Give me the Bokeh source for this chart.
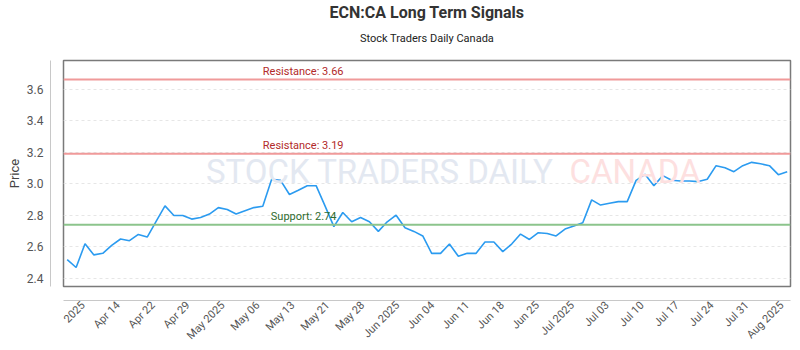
import math
from bokeh.plotting import figure
from bokeh.models import FixedTicker, Span, Label, Title, Range1d, LinearAxis
from bokeh.embed import file_html
from bokeh.resources import INLINE

# ---- data ----
prices = [
    2.518, 2.468, 2.619, 2.548, 2.558, 2.608, 2.649, 2.638, 2.678, 2.661,
    2.761, 2.859, 2.798, 2.798, 2.775, 2.785, 2.807, 2.848, 2.836, 2.807,
    2.828, 2.848, 2.857, 3.028, 3.021, 2.931, 2.958, 2.987, 2.987, 2.859,
    2.727, 2.817, 2.758, 2.785, 2.758, 2.697, 2.758, 2.800, 2.720, 2.697,
    2.668, 2.558, 2.558, 2.617, 2.539, 2.558, 2.558, 2.630, 2.630, 2.569,
    2.617, 2.680, 2.646, 2.689, 2.684, 2.668, 2.712, 2.731, 2.752, 2.897,
    2.864, 2.876, 2.886, 2.886, 3.021, 3.059, 2.987, 3.051, 3.021, 3.017,
    3.017, 3.013, 3.028, 3.114, 3.101, 3.076, 3.114, 3.135, 3.126, 3.114,
    3.057, 3.076,
]
tick_labels = [
    "2025", "Apr 14", "Apr 22", "Apr 29", "May 2025", "May 06", "May 13",
    "May 21", "May 28", "Jun 2025", "Jun 04", "Jun 11", "Jun 18", "Jun 25",
    "Jul 2025", "Jul 03", "Jul 10", "Jul 17", "Jul 24", "Jul 31", "Aug 2025",
]
resistance_levels = [3.66, 3.19]
support_levels = [2.74]
y_ticks = [2.4, 2.6, 2.8, 3.0, 3.2, 3.4, 3.6]

title_text = "ECN:CA Long Term Signals"
subtitle_text = "Stock Traders Daily Canada"

# ---- figure ----
FONT = "Roboto"
x = list(range(len(prices)))
n = len(prices)

p = figure(width=800, height=350, output_backend="svg", toolbar_location=None,
           x_range=Range1d(-0.42, n - 1 + 0.37), y_range=Range1d(2.3476, 3.781),
           min_border_left=63, min_border_right=10, min_border_top=10,
           min_border_bottom=64, background_fill_color="white",
           border_fill_color="white")

p.outline_line_color = "#7a7a7a"
p.outline_line_width = 1.5

gap = Title(text=" ", text_font_size="1px", standoff=6)
sub = Title(text=subtitle_text, align="center", text_font=FONT,
            text_font_size="11px", text_font_style="normal",
            text_color="#222222", standoff=14)
main = Title(text=title_text, align="center", text_font=FONT,
             text_font_size="16px", text_font_style="bold",
             text_color="#333333", standoff=1)
p.add_layout(gap, "above")
p.add_layout(sub, "above")
p.add_layout(main, "above")

# watermark
p.add_layout(Label(x=15.6, y=2.955, text="STOCK TRADERS DAILY",
                   text_font=FONT, text_font_size="33px",
                   text_color="#e3e8f1"))
p.add_layout(Label(x=56.5, y=2.955, text="CANADA",
                   text_font=FONT, text_font_size="33px",
                   text_color="#fde0e0"))

# grid
p.xgrid.visible = False
p.ygrid.ticker = FixedTicker(ticks=y_ticks)
p.ygrid.grid_line_color = "#e6e6e6"
p.ygrid.grid_line_dash = "3 3"

# levels
for lv in resistance_levels:
    p.add_layout(Span(location=lv, dimension="width", line_color="#f09a9a",
                      line_width=2))
    p.add_layout(Label(x=22.0, y=lv, y_offset=2, text=f"Resistance: {lv:.2f}",
                       text_font=FONT, text_font_size="11px",
                       text_color="#b22a2a"))
for lv in support_levels:
    p.add_layout(Span(location=lv, dimension="width", line_color="#8cc48c",
                      line_width=2))
    p.add_layout(Label(x=22.9, y=lv, y_offset=2, text=f"Support: {lv:.2f}",
                       text_font=FONT, text_font_size="11px",
                       text_color="#2e6b2e"))

# price line
p.line(x, prices, line_color="#2b9bf0", line_width=1.6)

# axes
tick_step = 3.93
tick_pos = [1.8 + k * tick_step for k in range(len(tick_labels))]
xa = p.xaxis[0]
xa.ticker = FixedTicker(ticks=tick_pos)
xa.major_label_overrides = {t: lab for t, lab in zip(tick_pos, tick_labels)}
xa.major_label_orientation = math.pi / 4
xa.axis_line_color = "#c8c8c8"
xa.major_tick_line_color = None
xa.minor_tick_line_color = None
xa.major_tick_out = 0
xa.major_tick_in = 0
xa.major_label_standoff = 3
xa.major_label_text_font = FONT
xa.major_label_text_font_size = "11px"
xa.major_label_text_color = "#555555"

ya = p.yaxis[0]
ya.ticker = FixedTicker(ticks=y_ticks)
ya.major_label_overrides = {t: f"{t:.1f}" for t in y_ticks}
ya.axis_line_color = "#c8c8c8"
ya.major_tick_line_color = None
ya.minor_tick_line_color = None
ya.major_tick_out = 0
ya.major_tick_in = 0
ya.major_label_standoff = 7
ya.major_label_text_font = FONT
ya.major_label_text_font_size = "12px"
ya.major_label_text_color = "#555555"
ya.axis_label = "Price"
ya.axis_label_text_font = FONT
ya.axis_label_text_font_size = "13px"
ya.axis_label_text_font_style = "normal"
ya.axis_label_text_color = "#444444"
ya.axis_label_standoff = 2


def spacer(tick):
    # empty axis that only reserves a 10px gap between frame and visible axis
    return LinearAxis(ticker=FixedTicker(ticks=[tick]), major_tick_out=10,
                      major_tick_in=0, major_tick_line_color=None,
                      minor_tick_line_color=None, axis_line_color=None,
                      major_label_overrides={tick: " "},
                      major_label_text_font_size="1px",
                      major_label_standoff=0)


p.left = [spacer(3.0), ya]
p.below = [spacer(40.0), xa]

open("out.html", "w").write(file_html(p, INLINE))
